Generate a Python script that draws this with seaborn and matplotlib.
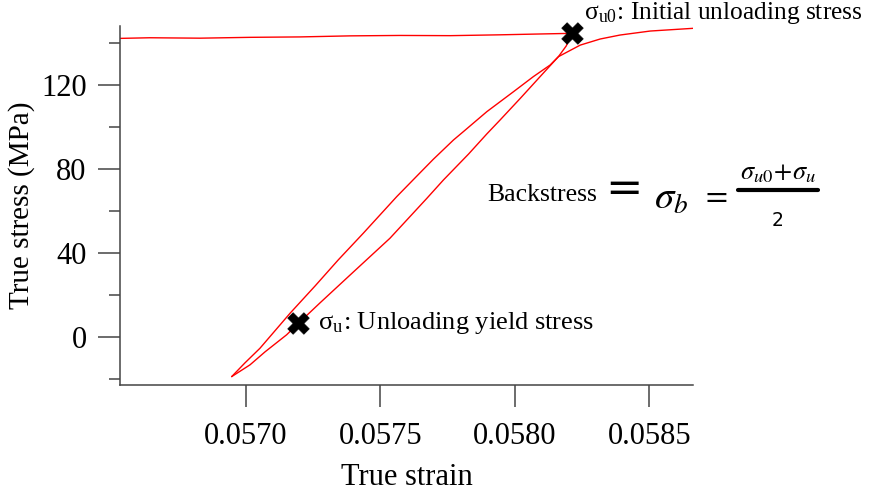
import matplotlib
matplotlib.use("Agg")
import matplotlib.pyplot as plt
import seaborn as sns
from matplotlib.ticker import MultipleLocator

# prior loading (flat part before unloading)
load_strain = [0.056533, 0.056644, 0.056830, 0.057016, 0.057202, 0.057388,
               0.057574, 0.057760, 0.057945, 0.058094, 0.058212]
load_stress = [142.2, 142.5, 142.3, 142.7, 142.9, 143.4, 143.6, 143.5, 143.9, 144.3, 144.6]

# unloading branch
unload_strain = [0.058212, 0.058191, 0.058162, 0.058094, 0.058020, 0.057945, 0.057896,
                 0.057828, 0.057735, 0.057673, 0.057536, 0.057388, 0.057276, 0.057196,
                 0.057152, 0.057072, 0.057016, 0.056948]
unload_stress = [144.6, 138.6, 133.5, 124.0, 113.6, 103.3, 96.7, 87.1, 74.8, 66.0,
                 47.0, 29.5, 16.2, 6.5, 1.0, -7.1, -13.3, -18.9]

# reloading branch
reload_strain = [0.056948, 0.056997, 0.057053, 0.057165, 0.057258, 0.057344, 0.057437,
                 0.057561, 0.057648, 0.057697, 0.057772, 0.057809, 0.057896, 0.057995,
                 0.058069, 0.058131, 0.058162, 0.058243, 0.058317, 0.058391, 0.058503,
                 0.058663]
reload_stress = [-18.9, -12.4, -5.4, 11.3, 24.3, 36.7, 49.4, 66.8, 78.2, 84.6, 93.8,
                 97.8, 107.3, 116.8, 124.0, 129.5, 133.5, 139.0, 141.9, 143.8, 145.7, 147.0]

# marked points: initial unloading stress, unloading yield stress
pt_strain = [0.058212, 0.057196]
pt_stress = [144.6, 6.5]

sns.set_style("ticks")
plt.rcParams["font.family"] = ["Liberation Serif", "DejaVu Serif"]
plt.rcParams["mathtext.fontset"] = "stix"
plt.rcParams["text.color"] = "black"
plt.rcParams["axes.labelcolor"] = "black"
plt.rcParams["xtick.labelcolor"] = "black"
plt.rcParams["ytick.labelcolor"] = "black"

W, H = 871, 496
fig = plt.figure(figsize=(W / 100, H / 100), dpi=100)
ax = fig.add_axes([120 / W, 1 - 385 / H, (693 - 120) / W, (385 - 26) / H])

for xs, ys in [(load_strain, load_stress), (unload_strain, unload_stress), (reload_strain, reload_stress)]:
    sns.lineplot(x=xs, y=ys, sort=False, estimator=None, color="#ff0000", lw=1.0, ax=ax)

sns.scatterplot(x=pt_strain, y=pt_stress, marker="X", s=240, color="black",
                edgecolor="black", linewidth=0.5, ax=ax, zorder=5, clip_on=False)

ax.set_xlim(0.056533, 0.058662)
ax.set_ylim(-22.9, 148.1)
ax.set_xticks([0.0570, 0.0575, 0.0580, 0.0585])
ax.set_xticklabels(["0.0570", "0.0575", "0.0580", "0.0585"])
ax.set_yticks([0, 40, 80, 120])
ax.yaxis.set_minor_locator(MultipleLocator(20))
sns.despine(ax=ax)
for s in ["left", "bottom"]:
    ax.spines[s].set_color("#444444")
    ax.spines[s].set_linewidth(1.1)
ax.tick_params(axis="both", which="major", length=16, width=1.1, color="#444444",
               labelsize=22, pad=8)
ax.tick_params(axis="x", which="major", pad=11)
ax.tick_params(axis="y", which="minor", length=8, width=1.1, color="#444444")
ax.set_xlabel("True strain", fontsize=22, labelpad=8)
ax.set_ylabel("True stress (MPa)", fontsize=21, labelpad=4)


def ftext(x, y, s, **kw):
    fig.text(x / W, 1 - y / H, s, **kw)


ftext(584, 13, "σ$_\\mathregular{u0}$: Initial unloading stress", fontsize=18.3, va="center")
ftext(318, 323, "σ$_\\mathregular{u}$: Unloading yield stress", fontsize=19, va="center")

ftext(487, 195, "Backstress", fontsize=18.5, va="center")
ftext(624, 189, "=", fontsize=32, family="DejaVu Sans", ha="center", va="center")
ftext(671, 199, r"$\sigma_b$", fontsize=28, ha="center", va="center")
ftext(714, 196, r"$=$", fontsize=23, ha="center", va="center")
ftext(778, 174, r"$\sigma_{u0}\!+\!\sigma_u$", fontsize=19, ha="center", va="center")
ftext(778, 221, "2", fontsize=13.5, family="DejaVu Sans", ha="center", va="center")
fig.add_artist(plt.Line2D([738 / W, 818 / W], [1 - 189.5 / H, 1 - 189.5 / H], color="black", lw=3))

fig.savefig("out.png", dpi=100)
